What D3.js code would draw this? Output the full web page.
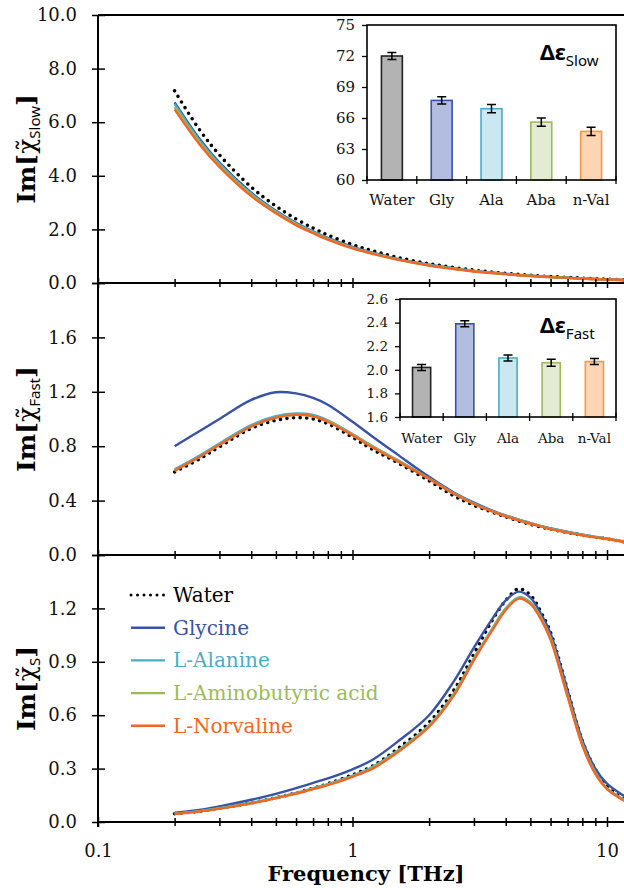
<!DOCTYPE html>
<html>
<head>
<meta charset="utf-8">
<script src="https://cdn.jsdelivr.net/npm/d3@7"></script>
<style>
  body { margin: 0; background: #fff; }
  svg { display: block; }
</style>
</head>
<body>
<div id="chart"></div>
<script>
var freq = [0.2,0.25,0.3,0.4,0.5,0.6,0.7,0.8,1,1.2,1.5,2,2.5,3,3.5,4,4.5,5,5.5,6,7,8,9,10,12];

// Im[chi_slow]
var slowWater = [7.17,5.73,4.78,3.58,2.87,2.39,2.05,1.79,1.43,1.20,0.96,0.72,0.58,0.48,0.41,0.36,0.32,0.29,0.26,0.24,0.21,0.18,0.16,0.14,0.12];
var slowGly   = [6.74,5.39,4.49,3.37,2.70,2.25,1.93,1.68,1.35,1.13,0.90,0.68,0.55,0.45,0.39,0.34,0.30,0.27,0.25,0.23,0.20,0.17,0.15,0.13,0.11];
var slowAla   = [6.68,5.33,4.45,3.33,2.67,2.22,1.91,1.66,1.33,1.12,0.89,0.67,0.54,0.45,0.38,0.34,0.30,0.27,0.24,0.22,0.19,0.17,0.15,0.13,0.11];
var slowAba   = [6.57,5.24,4.37,3.28,2.63,2.19,1.88,1.64,1.31,1.10,0.88,0.66,0.53,0.44,0.38,0.33,0.29,0.27,0.24,0.22,0.19,0.16,0.15,0.13,0.11];
var slowNval  = [6.48,5.19,4.33,3.24,2.60,2.16,1.86,1.62,1.29,1.09,0.87,0.65,0.52,0.43,0.37,0.33,0.29,0.26,0.24,0.22,0.19,0.16,0.14,0.13,0.11];

// Im[chi_fast]
var fastWater = [0.61,0.705,0.795,0.93,0.99,1.01,1.0,0.965,0.865,0.775,0.68,0.545,0.435,0.365,0.318,0.28,0.25,0.225,0.206,0.19,0.165,0.145,0.13,0.118,0.093];
var fastGly   = [0.80,0.91,1.00,1.14,1.197,1.188,1.155,1.105,0.98,0.87,0.74,0.575,0.46,0.385,0.33,0.29,0.26,0.235,0.212,0.195,0.17,0.15,0.133,0.12,0.095];
var fastAla   = [0.63,0.73,0.82,0.955,1.02,1.04,1.03,0.99,0.89,0.80,0.70,0.565,0.455,0.38,0.325,0.29,0.26,0.235,0.212,0.195,0.17,0.15,0.133,0.12,0.095];
var fastAba   = [0.62,0.72,0.81,0.945,1.01,1.03,1.02,0.985,0.885,0.795,0.695,0.56,0.45,0.375,0.325,0.285,0.255,0.23,0.21,0.19,0.165,0.145,0.13,0.118,0.093];
var fastNval  = [0.62,0.72,0.81,0.945,1.01,1.03,1.02,0.98,0.88,0.79,0.69,0.56,0.45,0.375,0.325,0.285,0.255,0.23,0.21,0.19,0.165,0.145,0.13,0.118,0.093];

// Im[chi_S]
var sWater = [0.046,0.060,0.076,0.107,0.136,0.163,0.19,0.215,0.265,0.315,0.41,0.56,0.74,0.945,1.12,1.245,1.31,1.275,1.18,1.065,0.74,0.455,0.295,0.20,0.115];
var sGly   = [0.052,0.068,0.088,0.125,0.158,0.19,0.22,0.245,0.296,0.35,0.45,0.60,0.79,0.98,1.13,1.245,1.294,1.26,1.17,1.06,0.74,0.46,0.30,0.215,0.135];
var sAla   = [0.047,0.061,0.077,0.108,0.137,0.163,0.19,0.213,0.26,0.31,0.40,0.545,0.72,0.92,1.075,1.20,1.262,1.235,1.15,1.035,0.715,0.44,0.28,0.19,0.115];
var sAba   = [0.046,0.060,0.076,0.106,0.135,0.161,0.188,0.21,0.257,0.305,0.395,0.54,0.715,0.915,1.07,1.195,1.258,1.23,1.145,1.03,0.71,0.435,0.275,0.187,0.113];
var sNval  = [0.045,0.059,0.075,0.105,0.133,0.159,0.185,0.207,0.254,0.30,0.39,0.535,0.71,0.91,1.065,1.19,1.255,1.225,1.14,1.025,0.705,0.43,0.27,0.185,0.11];

// inset bar charts
var insetCats = ["Water","Gly","Ala","Aba","n-Val"];
var slowDelta = [72.0,67.7,66.9,65.6,64.7];
var slowErr   = [0.35,0.35,0.4,0.4,0.4];
var fastDelta = [2.02,2.39,2.10,2.06,2.07];
var fastErr   = [0.025,0.025,0.025,0.03,0.025];

var legendNames = ["Water","Glycine","L-Alanine","L-Aminobutyric acid","L-Norvaline"];
var lineColors = ["#000000","#3953a4","#4bacc6","#9bbb59","#f26522"];
var barFill    = ["#b3b3b3","#b3bde0","#cbe8f0","#e3ebd3","#fcd5b4"];
var barStroke  = ["#222222","#3953a4","#4bacc6","#9bbb59","#f79646"];

var SERIF = "DejaVu Serif, serif";
var W = 624, H = 888;
var svg = d3.select("#chart").append("svg").attr("width", W).attr("height", H);

var x = d3.scaleLog().domain([0.1, 10]).range([98, 607]);
var plotRight = 624;
var minorTicks = [0.2,0.3,0.4,0.5,0.6,0.7,0.8,0.9,2,3,4,5,6,7,8,9,20];
var majorTicks = [0.1,1,10];

var panels = [
  {top: 15,  bottom: 283, max: 10,  step: 2,   fmt: ".1f", sub: "Slow", series: [slowWater, slowGly, slowAla, slowAba, slowNval], labelTop: true},
  {top: 283, bottom: 555, max: 2.0, step: 0.4, fmt: ".1f", sub: "Fast", series: [fastWater, fastGly, fastAla, fastAba, fastNval], labelTop: false},
  {top: 555, bottom: 822, max: 1.5, step: 0.3, fmt: ".1f", sub: "S",    series: [sWater, sGly, sAla, sAba, sNval], labelTop: false}
];

var defs = svg.append("defs");

panels.forEach(function(p, pi) {
  var y = d3.scaleLinear().domain([0, p.max]).range([p.bottom, p.top]);

  defs.append("clipPath").attr("id", "clip" + pi)
    .append("rect")
      .attr("x", 98).attr("y", p.top)
      .attr("width", plotRight - 98).attr("height", p.bottom - p.top);

  var g = svg.append("g");

  // curves
  var line = d3.line()
    .x(function(d) { return x(d[0]); })
    .y(function(d) { return y(d[1]); })
    .curve(d3.curveCatmullRom.alpha(0.5));

  var cg = g.append("g").attr("clip-path", "url(#clip" + pi + ")");
  p.series.forEach(function(vals, si) {
    var pts = freq.map(function(f, i) { return [f, vals[i]]; });
    var path = cg.append("path")
      .datum(pts)
      .attr("fill", "none")
      .attr("stroke", lineColors[si])
      .attr("d", line);
    if (si === 0) {
      path.attr("stroke-width", 3.6)
        .attr("stroke-linecap", "round")
        .attr("stroke-dasharray", "0 6.6");
    } else {
      path.attr("stroke-width", 2.4);
    }
  });

  // y axis
  var ticks = d3.range(0, p.max + 1e-9, p.step);
  var yAxis = d3.axisLeft(y)
    .tickValues(ticks)
    .tickSize(6)
    .tickPadding(15)
    .tickFormat(function(d) {
      if (!p.labelTop && Math.abs(d - p.max) < 1e-9) return "";
      return d3.format(p.fmt)(d);
    });
  var ya = g.append("g").attr("transform", "translate(98,0)").call(yAxis);
  ya.select(".domain").remove();
  ya.selectAll(".tick line").attr("x1", 7).attr("stroke-width", 1.5);
  ya.selectAll(".tick text").attr("font-family", SERIF).attr("font-size", 18).attr("fill", "#111");

  // x axis at the bottom of each panel
  var xAxis = d3.axisBottom(x)
    .tickValues(minorTicks.concat(majorTicks).filter(function(d) { return x(d) <= plotRight; }))
    .tickSize(4)
    .tickFormat(function(d) { return (pi === 2 && majorTicks.indexOf(d) >= 0) ? d3.format("~g")(d) : ""; })
    .tickPadding(18);
  var xa = g.append("g").attr("transform", "translate(0," + p.bottom + ")").call(xAxis);
  xa.select(".domain").remove();
  xa.selectAll(".tick line")
    .attr("y1", function(d) { return majorTicks.indexOf(d) >= 0 ? -5 : -4; })
    .attr("y2", function(d) { return majorTicks.indexOf(d) >= 0 ? 5 : 4; })
    .attr("stroke-width", 1.5);
  xa.selectAll(".tick text").attr("font-family", SERIF).attr("font-size", 18).attr("fill", "#111");

  g.append("line")
    .attr("x1", 98).attr("x2", plotRight)
    .attr("y1", p.bottom).attr("y2", p.bottom)
    .attr("stroke", "#000").attr("stroke-width", 2);

  // y label Im[chi~_sub]
  var cy = (p.top + p.bottom) / 2;
  var lab = g.append("text")
    .attr("transform", "translate(35," + cy + ") rotate(-90)")
    .attr("text-anchor", "middle")
    .attr("font-family", SERIF)
    .attr("font-size", 25)
    .attr("fill", "#000");
  lab.append("tspan").attr("font-weight", "bold").text("Im[");
  lab.append("tspan").text("\u03C7\u0303");
  lab.append("tspan").attr("font-family", "Noto Sans, sans-serif").attr("font-size", 15).attr("dy", 5).text(p.sub);
  lab.append("tspan").attr("font-weight", "bold").attr("dy", -5).text("]");
});

// frame lines
svg.append("line").attr("x1", 98).attr("x2", 98).attr("y1", 15).attr("y2", 827)
  .attr("stroke", "#000").attr("stroke-width", 2);
svg.append("line").attr("x1", 98).attr("x2", plotRight).attr("y1", 15).attr("y2", 15)
  .attr("stroke", "#000").attr("stroke-width", 2);

// x title
svg.append("text")
  .attr("x", 366).attr("y", 881)
  .attr("text-anchor", "middle")
  .attr("font-family", SERIF)
  .attr("font-weight", "bold")
  .attr("font-size", 21)
  .text("Frequency [THz]");

// legend
var leg = svg.append("g");
legendNames.forEach(function(name, i) {
  var by = 602 + i * 32.7;
  var ln = leg.append("line")
    .attr("x1", 131).attr("x2", 165)
    .attr("y1", by - 7).attr("y2", by - 7)
    .attr("stroke", lineColors[i]);
  if (i === 0) {
    ln.attr("stroke-width", 3).attr("stroke-linecap", "round").attr("stroke-dasharray", "0 6.5");
  } else {
    ln.attr("stroke-width", 2.4);
  }
  leg.append("text")
    .attr("x", 173).attr("y", by)
    .attr("font-family", SERIF)
    .attr("font-size", 20)
    .attr("fill", lineColors[i])
    .text(name);
});

// inset bar charts
function drawInset(opt) {
  var g = svg.append("g");
  var xb = d3.scaleBand().domain(insetCats).range([opt.x0, opt.x1]);
  var yb = d3.scaleLinear().domain(opt.domain).range([opt.y1, opt.y0]);

  g.append("rect")
    .attr("x", opt.x0).attr("y", opt.y0)
    .attr("width", opt.x1 - opt.x0).attr("height", opt.y1 - opt.y0)
    .attr("fill", "#fff");

  var bw = xb.bandwidth() * 0.42;
  insetCats.forEach(function(c, i) {
    var cx = xb(c) + xb.bandwidth() / 2;
    g.append("rect")
      .attr("x", cx - bw / 2).attr("y", yb(opt.values[i]))
      .attr("width", bw).attr("height", yb(opt.domain[0]) - yb(opt.values[i]))
      .attr("fill", barFill[i]).attr("stroke", barStroke[i]).attr("stroke-width", 1.6);
    var e0 = yb(opt.values[i] - opt.errs[i]), e1 = yb(opt.values[i] + opt.errs[i]);
    g.append("path")
      .attr("d", "M" + (cx - 4.5) + "," + e0 + "H" + (cx + 4.5) +
                 "M" + cx + "," + e0 + "V" + e1 +
                 "M" + (cx - 4.5) + "," + e1 + "H" + (cx + 4.5))
      .attr("fill", "none").attr("stroke", "#000").attr("stroke-width", 1.5);
    g.append("text")
      .attr("x", cx).attr("y", opt.y1 + opt.labelGap)
      .attr("text-anchor", "middle")
      .attr("font-family", SERIF)
      .attr("font-size", opt.fs)
      .attr("fill", "#111")
      .text(c);
  });

  // ticks at band edges
  var edges = insetCats.map(function(c) { return xb(c); }).concat([opt.x1]);
  edges.forEach(function(ex) {
    g.append("line").attr("x1", ex).attr("x2", ex)
      .attr("y1", opt.y1 - 4).attr("y2", opt.y1 + 4)
      .attr("stroke", "#000").attr("stroke-width", 1.3);
  });

  var ya = g.append("g").attr("transform", "translate(" + opt.x0 + ",0)")
    .call(d3.axisLeft(yb).tickValues(opt.ticks).tickSize(5).tickPadding(7).tickFormat(d3.format(opt.fmt)));
  ya.select(".domain").remove();
  ya.selectAll(".tick line").attr("stroke-width", 1.3);
  ya.selectAll(".tick text").attr("font-family", SERIF).attr("font-size", opt.fs).attr("fill", "#111");

  g.append("rect")
    .attr("x", opt.x0).attr("y", opt.y0)
    .attr("width", opt.x1 - opt.x0).attr("height", opt.y1 - opt.y0)
    .attr("fill", "none").attr("stroke", "#000").attr("stroke-width", 1.6);

  var t = g.append("text")
    .attr("x", 540).attr("y", opt.titleY)
    .attr("font-family", "Noto Sans, sans-serif")
    .attr("fill", "#000");
  t.append("tspan").attr("font-weight", "bold").attr("font-size", 22).text("\u0394\u03B5");
  t.append("tspan").attr("font-size", 15).attr("dy", 6).text(opt.sub);
}

drawInset({x0: 367, x1: 616, y0: 25, y1: 180, domain: [60, 75], ticks: [60,63,66,69,72,75], fmt: "d",
  values: slowDelta, errs: slowErr, fs: 15, labelGap: 25, titleY: 60, sub: "Slow"});
drawInset({x0: 400, x1: 616, y0: 299, y1: 417, domain: [1.6, 2.6], ticks: [1.6,1.8,2.0,2.2,2.4,2.6], fmt: ".1f",
  values: fastDelta, errs: fastErr, fs: 13.5, labelGap: 26, titleY: 333, sub: "Fast"});
</script>
</body>
</html>
